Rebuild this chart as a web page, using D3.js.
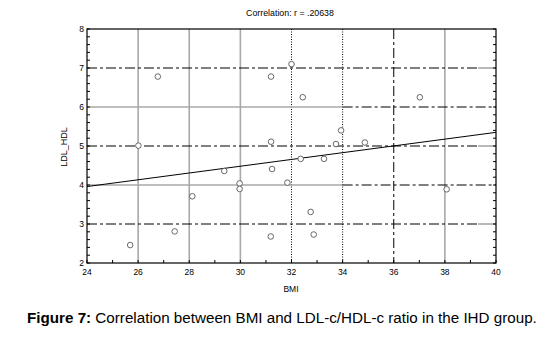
<!DOCTYPE html>
<html>
<head>
<meta charset="utf-8">
<script src="https://cdn.jsdelivr.net/npm/d3@7"></script>
<style>
  body { margin: 0; background: #fff; }
  svg { display: block; font-family: "Liberation Sans", Arial, sans-serif; }
</style>
</head>
<body>
<div id="chart"></div>
<script>
// --- data ---
const bmi = [26.77, 31.2, 32.0, 26.01, 31.2, 32.44, 37.02, 33.94, 33.74, 34.87,
             29.37, 31.24, 29.97, 29.97, 31.84, 28.12, 27.43, 25.69, 31.19,
             32.36, 33.27, 38.07, 32.75, 32.87];
const ldlHdl = [6.78, 6.78, 7.1, 5.01, 5.11, 6.25, 6.25, 5.40, 5.05, 5.09,
                4.36, 4.41, 4.04, 3.90, 4.06, 3.71, 2.81, 2.46, 2.68,
                4.67, 4.67, 3.89, 3.31, 2.73];
const fitLine = [[24, 3.96], [40, 5.35]];
const xTicks = [24, 26, 28, 30, 32, 34, 36, 38, 40];
const yTicks = [2, 3, 4, 5, 6, 7, 8];
const points = bmi.map((b, i) => ({ x: b, y: ldlHdl[i] }));

const W = 547, H = 338;
const margin = { left: 87, right: 51, top: 29, bottom: 75 };

const svg = d3.select("#chart").append("svg").attr("width", W).attr("height", H);

const x = d3.scaleLinear().domain([24, 40]).range([margin.left, W - margin.right]);
const y = d3.scaleLinear().domain([2, 8]).range([H - margin.bottom, margin.top]);

const grid = svg.append("g");
const gray = "#a8a8a8";
const dashDot = "10,3,3,3";
// vertical grid lines
const vStyle = { 26: "gray", 28: "gray", 30: "gray", 38: "gray", 32: "dot", 34: "dot", 36: "dashdot" };
[26, 28, 30, 32, 34, 36, 38].forEach(v => {
  const s = vStyle[v];
  grid.append("line")
    .attr("x1", x(v)).attr("x2", x(v)).attr("y1", y(8)).attr("y2", y(2))
    .attr("stroke", s === "gray" ? gray : "#000")
    .attr("stroke-width", s === "gray" ? 1.6 : 1)
    .attr("stroke-dasharray", s === "dot" ? "1,1.5" : s === "dashdot" ? dashDot : null);
});
// horizontal grid lines
[3, 4, 5, 6, 7].forEach(v => {
  const split = (v === 4 || v === 6) ? 34 : 24;
  if (split > 24) {
    grid.append("line")
      .attr("x1", x(24)).attr("x2", x(split)).attr("y1", y(v)).attr("y2", y(v))
      .attr("stroke", gray).attr("stroke-width", 1.6);
  }
  const end = (v === 4 || v === 6) ? 40 : 39.3;
  grid.append("line")
    .attr("x1", x(split)).attr("x2", x(end)).attr("y1", y(v)).attr("y2", y(v))
    .attr("stroke", "#000").attr("stroke-width", 1)
    .attr("stroke-dasharray", dashDot);
  if (end < 40) {
    grid.append("line")
      .attr("x1", x(end)).attr("x2", x(40)).attr("y1", y(v)).attr("y2", y(v))
      .attr("stroke", gray).attr("stroke-width", 1.6);
  }
});

// frame
svg.append("rect")
  .attr("x", x(24)).attr("y", y(8))
  .attr("width", x(40) - x(24)).attr("height", y(2) - y(8))
  .attr("fill", "none").attr("stroke", "#000").attr("stroke-width", 1.2);

// minor ticks (inward)
const ticks = svg.append("g").attr("stroke", "#000").attr("stroke-width", 1);
d3.range(2, 8.001, 0.2).forEach(v => {
  ticks.append("line").attr("x1", x(24)).attr("x2", x(24) + 3).attr("y1", y(v)).attr("y2", y(v));
  ticks.append("line").attr("x1", x(40)).attr("x2", x(40) - 3).attr("y1", y(v)).attr("y2", y(v));
});
d3.range(24, 40.001, 1).forEach(v => {
  ticks.append("line").attr("x1", x(v)).attr("x2", x(v)).attr("y1", y(2)).attr("y2", y(2) - 3);
});

// tick labels
svg.append("g").selectAll("text").data(xTicks).join("text")
  .attr("x", d => x(d)).attr("y", y(2) + 12)
  .attr("text-anchor", "middle").attr("font-size", 8.5).text(d => d);
svg.append("g").selectAll("text").data(yTicks).join("text")
  .attr("x", x(24) - 3).attr("y", d => y(d) + 3)
  .attr("text-anchor", "end").attr("font-size", 8.5).text(d => d);

// regression line
svg.append("line")
  .attr("x1", x(fitLine[0][0])).attr("y1", y(fitLine[0][1]))
  .attr("x2", x(fitLine[1][0])).attr("y2", y(fitLine[1][1]))
  .attr("stroke", "#000").attr("stroke-width", 1);

// points
svg.append("g").selectAll("circle").data(points).join("circle")
  .attr("cx", d => x(d.x)).attr("cy", d => y(d.y)).attr("r", 2.8)
  .attr("fill", "#fff").attr("stroke", "#444").attr("stroke-width", 0.8);

// labels
svg.append("text").attr("x", 290).attr("y", 16).attr("text-anchor", "middle")
  .attr("font-size", 8.8).text("Correlation: r = .20638");
svg.append("text").attr("x", 291).attr("y", 292).attr("text-anchor", "middle")
  .attr("font-size", 8.5).text("BMI");
svg.append("text").attr("transform", `translate(67,147) rotate(-90)`)
  .attr("text-anchor", "middle").attr("font-size", 9).text("LDL_HDL");

const cap = svg.append("text").attr("x", 27).attr("y", 323).attr("font-size", 15.2);
cap.append("tspan").attr("font-weight", "bold").text("Figure 7:");
cap.append("tspan").text(" Correlation between BMI and LDL-c/HDL-c ratio in the IHD group.");
</script>
</body>
</html>
